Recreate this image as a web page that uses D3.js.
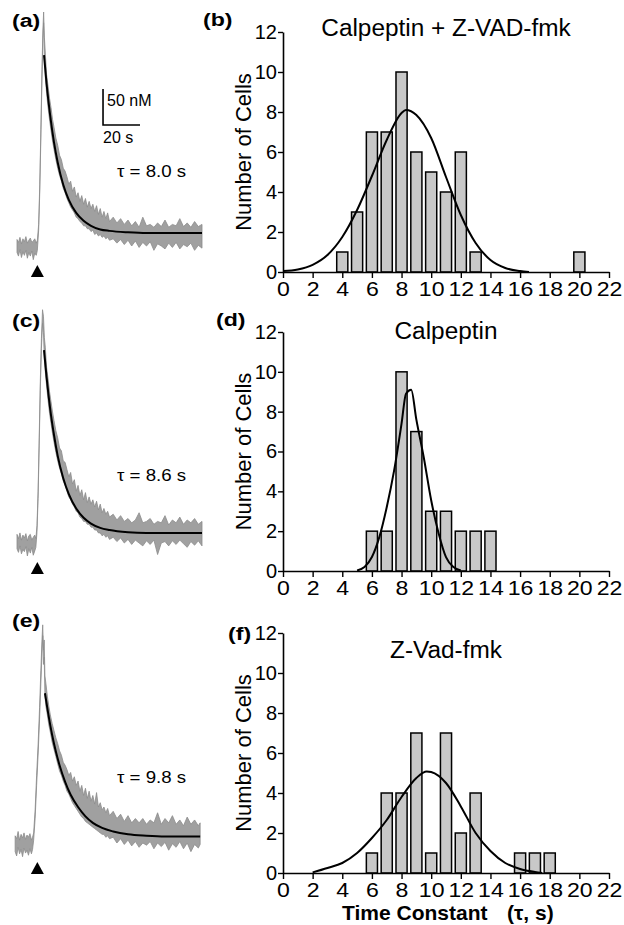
<!DOCTYPE html>
<html>
<head>
<meta charset="utf-8">
<script src="https://cdn.jsdelivr.net/npm/d3@7"></script>
<style>
body { margin: 0; background: #fff; }
svg { display: block; font-family: "Liberation Sans", Arial, sans-serif; }
</style>
</head>
<body>
<script>
// histogram bins (tau, s) and number of cells
var binsB = [4, 5, 6, 7, 8, 9, 10, 11, 12, 13, 20];
var countsB = [1, 3, 7, 7, 10, 6, 5, 4, 6, 1, 1];
var binsD = [6, 7, 8, 9, 10, 11, 12, 13, 14];
var countsD = [2, 2, 10, 7, 3, 3, 2, 2, 2];
var binsF = [6, 7, 8, 9, 10, 11, 12, 13, 16, 17, 18];
var countsF = [1, 4, 4, 7, 1, 7, 2, 4, 1, 1, 1];

// gaussian fits [tau, cells]
var fitB = [[0, 0.05], [1, 0.13], [2, 0.36], [3, 0.85], [4, 1.75], [5, 3.1], [6, 4.8], [7, 6.6], [8, 7.95], [8.3, 8.1],
    [9, 7.85], [10, 6.7], [11, 4.75], [12, 2.85], [13, 1.45], [14, 0.6], [15, 0.2], [16, 0.05], [16.6, 0]];
var fitD = [[5, 0.03], [5.5, 0.2], [6, 0.7], [6.5, 1.7], [7, 3.2], [7.5, 5.05], [8, 7.4], [8.3, 8.9], [8.65, 9.1],
    [9, 7.6], [9.5, 5.7], [10, 3.55], [10.5, 1.9], [11, 0.7], [11.5, 0.2], [12, 0.03]];
var fitF = [[2, 0.03], [3, 0.25], [4, 0.5], [5, 1.0], [6, 1.75], [7, 2.65], [8, 3.8], [9, 4.75], [9.7, 5.08],
    [10, 5.05], [11, 4.5], [12, 3.33], [13, 2.0], [14, 1.1], [15, 0.5], [16, 0.2], [17, 0.05], [17.5, 0]];

var titles = ["Calpeptin + Z-VAD-fmk", "Calpeptin", "Z-Vad-fmk"];
var xTicks = [0, 2, 4, 6, 8, 10, 12, 14, 16, 18, 20, 22];
var xMinor = [1, 3, 5, 7, 9, 11, 13, 15, 17, 19, 21];
var yTicks = [0, 2, 4, 6, 8, 10, 12];
var yMinor = [1, 3, 5, 7, 9, 11];

// Ca traces: [time s, low nM, high nM] of the noisy record
var traceA = [[0, -9, 9], [0.8, -14, 5], [1.6, -5, 12], [2.4, -16, 3], [3.2, -8, 10], [4, -13, 6], [4.8, -6, 13], [5.6, -17, 4],
    [6.4, -9, 8], [7.2, -14, 11], [8, -7, 5], [8.8, -19, 7], [9.6, -10, 10], [10.4, -13, 4], [11, -6, 8],
    [11.7, 22, 30], [12.3, 75, 85], [12.9, 150, 162], [13.5, 232, 245], [14, 285, 300], [14.4, 310, 325], [14.8, 262, 290],
    [15.3, 235, 268], [16, 212, 238], [16.8, 192, 222], [17.6, 175, 205], [18.4, 160, 192], [19.2, 146, 176], [20, 134, 165],
    [21, 120, 150], [22, 108, 140], [23, 98, 126], [24, 90, 120], [25, 80, 108], [26, 74, 104], [27, 66, 96], [28, 60, 86],
    [29, 54, 90], [30, 50, 76], [31, 46, 82], [32, 40, 68], [33, 38, 74], [34, 34, 62], [35, 32, 70], [36, 28, 58], [37, 28, 66],
    [38, 24, 54], [39, 24, 62], [40, 20, 52], [41, 22, 58], [42, 16, 48], [43, 18, 56], [44, 14, 44], [45, 16, 52], [46, 12, 40],
    [47, 14, 48], [48, 10, 38], [49, 12, 46], [50, 8, 34], [52, 10, 40], [54, 4, 32], [56, 9, 38], [58, 2, 30], [60, 8, 36],
    [62, 0, 28], [64, 7, 34], [66, -2, 26], [68, 5, 40], [70, 0, 28], [72, 6, 30], [74, -6, 26], [76, 3, 32], [78, 0, 27],
    [80, -4, 36], [82, 4, 26], [84, -2, 30], [86, 5, 28], [88, -4, 38], [90, 2, 27], [92, -1, 32], [94, 4, 26], [96, -6, 34],
    [98, 1, 27], [100, -3, 30]];
var traceC = [[0, -8, 12], [0.8, -13, 6], [1.6, -4, 14], [2.4, -15, 4], [3.2, -9, 11], [4, -12, 7], [4.8, -5, 13], [5.6, -18, 3],
    [6.4, -8, 10], [7.2, -14, 12], [8, -6, 4], [8.8, -17, 8], [9.6, -11, 11], [10.2, -6, 6],
    [10.8, 15, 24], [11.4, 62, 72], [12, 135, 146], [12.6, 212, 224], [13.2, 270, 284], [13.8, 305, 324], [14.3, 292, 315], [14.8, 255, 285],
    [15.3, 238, 272], [16, 218, 244], [16.8, 198, 228], [17.6, 180, 210], [18.4, 166, 196], [19.2, 152, 182], [20, 140, 170],
    [21, 126, 156], [22, 114, 146], [23, 104, 132], [24, 96, 128], [25, 86, 114], [26, 80, 112], [27, 72, 102], [28, 64, 92],
    [29, 60, 98], [30, 54, 82], [31, 50, 88], [32, 44, 72], [33, 42, 80], [34, 36, 66], [35, 34, 74], [36, 30, 60], [37, 30, 70],
    [38, 26, 56], [39, 26, 64], [40, 22, 54], [41, 22, 60], [42, 18, 50], [43, 18, 58], [44, 14, 46], [45, 14, 54], [46, 10, 42],
    [47, 12, 48], [48, 8, 40], [49, 10, 44], [50, 5, 36], [52, 8, 40], [54, 2, 32], [56, 7, 38], [58, 0, 30], [60, 5, 34],
    [62, -2, 28], [64, 4, 32], [66, 0, 42], [68, -4, 28], [70, 3, 30], [72, -2, 34], [74, 4, 26], [76, -16, 30], [78, 0, 28],
    [80, 2, 38], [82, -4, 25], [84, 3, 32], [86, -2, 28], [88, 4, 36], [90, -1, 26], [92, -6, 32], [94, 2, 28], [96, -3, 34],
    [98, 3, 26], [100, -4, 30]];
var traceE = [[-1, -12, 10], [-0.2, -18, 6], [0.6, -6, 16], [1.4, -15, 4], [2.2, -9, 12], [3, -19, 7], [3.8, -7, 14], [4.6, -14, 5],
    [5.4, -10, 11], [6.2, -17, 8], [7, -8, 13], [7.8, -15, 4], [8.4, -9, 8],
    [9, 4, 14], [9.8, 34, 46], [10.6, 80, 94], [11.4, 122, 136], [12.2, 172, 188], [12.9, 222, 240], [13.5, 265, 282],
    [13.9, 288, 303], [14.3, 248, 268], [14.7, 258, 282], [15.1, 205, 232],
    [15.6, 190, 222], [16.4, 178, 204], [17.2, 164, 190], [18, 154, 178], [19, 140, 166], [20, 130, 156], [21, 120, 146],
    [22, 110, 138], [23, 100, 128], [24, 94, 122], [25, 86, 112], [26, 80, 108], [27, 72, 102], [28, 68, 94], [29, 62, 98],
    [30, 56, 86], [31, 52, 92], [32, 48, 80], [33, 44, 86], [34, 40, 72], [35, 36, 80], [36, 34, 66], [37, 30, 76], [38, 28, 62],
    [39, 26, 72], [40, 24, 58], [41, 22, 66], [42, 20, 54], [43, 18, 70], [44, 16, 50], [45, 14, 56], [46, 12, 46], [47, 12, 50],
    [48, 8, 42], [49, 10, 48], [50, 6, 38], [52, 8, 44], [54, 0, 34], [56, 6, 40], [58, -2, 30], [60, 4, 38], [62, -4, 28],
    [64, 2, 34], [66, -6, 28], [68, 0, 34], [70, -3, 26], [72, 2, 32], [74, -8, 28], [76, 0, 42], [78, -5, 26], [80, 1, 34],
    [82, -10, 28], [84, -1, 38], [86, -6, 26], [88, 2, 32], [90, -8, 24], [92, 0, 36], [94, -12, 26], [96, -2, 32],
    [98, -7, 24], [99, -2, 28]];

// exponential fits of the decay [time s, nM]
var expA = [[14.6, 265], [16, 225], [18, 180], [20, 144], [22, 116], [25, 85], [28, 64], [32, 46], [36, 35], [40, 28],
    [45, 23], [50, 21], [60, 19], [70, 18], [80, 18], [100, 18]];
var expC = [[14.6, 268], [16, 230], [18, 185], [20, 150], [22, 121], [25, 90], [28, 68], [32, 48], [36, 35], [40, 27],
    [45, 21], [50, 18], [60, 15], [70, 14], [80, 14], [100, 14]];
var expE = [[15.1, 208], [17, 178], [19, 150], [21, 127], [23, 108], [26, 85], [29, 67], [33, 50], [37, 37], [41, 28],
    [46, 21], [52, 16], [60, 12], [70, 10], [80, 9], [99, 9]];

var tauLabels = ["\u03c4 = 8.0 s", "\u03c4 = 8.6 s", "\u03c4 = 9.8 s"];
var stimTime = [11, 11, 11];
var scaleBar = { t: 20, c: 50 };

var width = 624, height = 925;

var svg = d3.select("body").append("svg")
    .attr("width", width)
    .attr("height", height);

function label(g, x, y, str, size, opts) {
    opts = opts || {};
    return g.append("text")
        .attr("transform", "translate(" + x + "," + y + ") scale(" + (opts.sx || 1) + ",1)" + (opts.rot ? " rotate(" + opts.rot + ")" : ""))
        .attr("text-anchor", opts.anchor || "start")
        .attr("font-size", size)
        .attr("font-weight", opts.bold ? "bold" : "normal")
        .attr("fill", "#000")
        .text(str);
}

// ---- left column: Ca traces ----
var traces = [
    { band: traceA, fit: expA, base: 246, top: 0, name: "(a)", tauY: 177, triY: 265 },
    { band: traceC, fit: expC, base: 543, top: 300, name: "(c)", tauY: 481, triY: 562 },
    { band: traceE, fit: expE, base: 843, top: 600, name: "(e)", tauY: 783, triY: 862 }
];

traces.forEach(function(p, i) {
    var g = svg.append("g");
    var x = d3.scaleLinear().domain([0, 100]).range([17, 202]);
    var y = d3.scaleLinear().domain([0, 50]).range([p.base, p.base - 36]);

    var area = d3.area()
        .x(function(d) { return x(d[0]); })
        .y0(function(d) { return y(d[1]); })
        .y1(function(d) { return y(d[2]); });

    g.append("path")
        .datum(p.band)
        .attr("d", area)
        .attr("fill", "#a0a0a0")
        .attr("stroke", "#8c8c8c")
        .attr("stroke-width", 0.8);

    var line = d3.line()
        .x(function(d) { return x(d[0]); })
        .y(function(d) { return y(d[1]); })
        .curve(d3.curveMonotoneX);

    g.append("path")
        .datum(p.fit)
        .attr("d", line)
        .attr("fill", "none")
        .attr("stroke", "#000")
        .attr("stroke-width", 2);

    // stimulus marker
    var sx = x(stimTime[i]);
    g.append("path")
        .attr("d", "M" + (sx - 6.5) + "," + (p.triY + 12) + "L" + (sx + 6.5) + "," + (p.triY + 12) + "L" + sx + "," + p.triY + "Z")
        .attr("fill", "#000");

    label(g, 12, p.top + 27, p.name, 19, { bold: true, sx: 1.22 });
    label(g, 117, p.tauY, tauLabels[i], 17, { sx: 1.1 });

    if (i == 0) {
        // scale bar
        var t0 = 46.5, c0 = 168;
        g.append("path")
            .attr("d", "M" + x(t0) + "," + y(c0 + scaleBar.c) + "V" + y(c0) + "H" + x(t0 + scaleBar.t))
            .attr("fill", "none")
            .attr("stroke", "#000")
            .attr("stroke-width", 1.6);
        label(g, x(t0) + 4, y(c0 + scaleBar.c) + 17, "50 nM", 16);
        label(g, x(t0), y(c0) + 18, "20 s", 16);
    }
});

// ---- right column: histograms ----
var hists = [
    { bins: binsB, counts: countsB, fit: fitB, y0: 272, y1: 32, name: "(b)", nameY: 26, titleY: 36, top: 0 },
    { bins: binsD, counts: countsD, fit: fitD, y0: 571, y1: 332, name: "(d)", nameY: 326, titleY: 339, top: 300 },
    { bins: binsF, counts: countsF, fit: fitF, y0: 873, y1: 633, name: "(f)", nameY: 640, titleY: 658, top: 600 }
];

hists.forEach(function(h, i) {
    var g = svg.append("g");
    var x = d3.scaleLinear().domain([0, 22]).range([283, 609]);
    var y = d3.scaleLinear().domain([0, 12]).range([h.y0, h.y1]);
    var bw = x(0.75) - x(0);

    // bars
    g.append("g")
        .selectAll("rect")
        .data(h.bins)
        .enter()
        .append("rect")
        .attr("x", function(d) { return x(d) - bw / 2; })
        .attr("y", function(d, j) { return y(h.counts[j]); })
        .attr("width", bw)
        .attr("height", function(d, j) { return y(0) - y(h.counts[j]); })
        .attr("fill", "#c8c8c8")
        .attr("stroke", "#000")
        .attr("stroke-width", 1.5);

    // fit
    var line = d3.line()
        .x(function(d) { return x(d[0]); })
        .y(function(d) { return y(d[1]); })
        .curve(d3.curveMonotoneX);
    g.append("path")
        .datum(h.fit)
        .attr("d", line)
        .attr("fill", "none")
        .attr("stroke", "#000")
        .attr("stroke-width", 2);

    // axes
    var xAxis = d3.axisBottom(x).tickValues(xTicks).tickSize(6).tickPadding(3).tickSizeOuter(0);
    var xAxisMinor = d3.axisBottom(x).tickValues(xMinor).tickSize(3.5).tickFormat("").tickSizeOuter(0);
    var yAxis = d3.axisLeft(y).tickValues(yTicks).tickSize(5).tickPadding(1).tickSizeOuter(0);
    var yAxisMinor = d3.axisLeft(y).tickValues(yMinor).tickSize(3).tickFormat("").tickSizeOuter(0);

    var gx = g.append("g").attr("transform", "translate(0," + y(0) + ")");
    gx.call(xAxisMinor);
    gx.call(xAxis);
    var gy = g.append("g").attr("transform", "translate(" + x(0) + ",0)");
    gy.call(yAxisMinor);
    gy.call(yAxis);

    g.selectAll(".domain").attr("stroke-width", 1.6);
    g.selectAll(".tick line").attr("stroke-width", 1.4);
    g.selectAll(".tick text")
        .attr("font-family", "Liberation Sans, Arial, sans-serif")
        .attr("fill", "#000");
    gx.selectAll(".tick text")
        .attr("font-size", 21)
        .attr("transform", "scale(1.1,1)");
    gy.selectAll(".tick text")
        .attr("font-size", 20);

    label(g, 251, (h.y0 + h.y1) / 2, "Number of Cells", 22, { anchor: "middle", rot: -90 });
    label(g, 446, h.titleY, titles[i], 23, { anchor: "middle", sx: 1.06 });
    label(g, i == 2 ? 228 : (i == 1 ? 216 : 203), h.nameY, h.name, 19, { bold: true, sx: 1.22 });
});

// x axis title under the last histogram
label(svg, 342, 920, "Time Constant", 21, { bold: true });
label(svg, 507, 920, "(\u03c4, s)", 21, { bold: true });
</script>
</body>
</html>
